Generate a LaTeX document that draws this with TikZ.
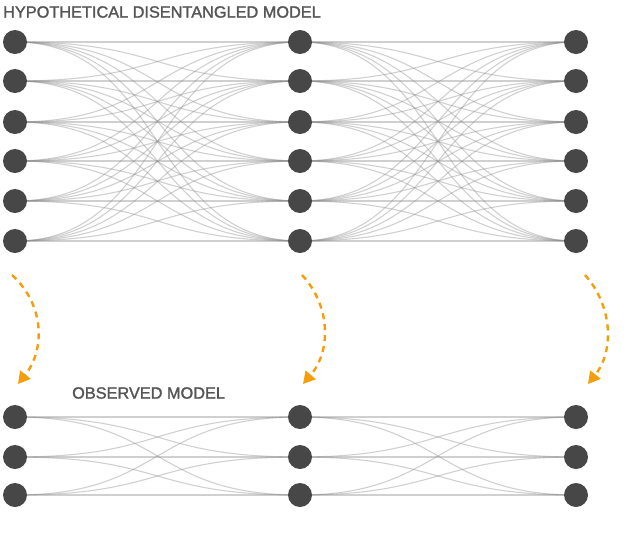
\documentclass[tikz,border=0pt]{standalone}
\usepackage{fontspec}
\setmainfont{Liberation Sans}
\newfontfamily\capfont{Liberation Sans}[FakeBold=1.6]
\usetikzlibrary{backgrounds,arrows.meta}
\definecolor{nodegray}{HTML}{474747}
\definecolor{edgegray}{HTML}{8A8A8A}
\definecolor{txtgray}{HTML}{555555}
\definecolor{arrorange}{HTML}{F59E0B}
\tikzset{
  neuron/.style={circle,fill=nodegray,minimum size=24pt,inner sep=0pt},
  link/.style={draw=edgegray,line width=1.1pt,draw opacity=0.4},
  mapflow/.style={draw=arrorange,line width=2.4pt,dash pattern=on 6pt off 5pt,-{Triangle[length=12pt,width=13pt]}},
  caption/.style={text=txtgray,font=\capfont\fontsize{16.3}{19}\selectfont,anchor=west,inner sep=0pt}
}
\begin{document}
\begin{tikzpicture}[x=1pt,y=-1pt]
\useasboundingbox (0,0) rectangle (625,539);
\node[caption] (t1) at (3,12) {HYPOTHETICAL DISENTANGLED MODEL};
\node[caption] (t2) at (72,393) {OBSERVED MODEL};
% networks
\foreach \c/\x in {a/15,b/300,c/576}{
  \foreach \i/\y in {1/42,2/81,3/122,4/161,5/201,6/241}{
    \node[neuron] (\c\i) at (\x,\y) {};
  }
  \foreach \i/\y in {1/417,2/457,3/495}{
    \node[neuron] (l\c\i) at (\x,\y) {};
  }
}
\begin{pgfonlayer}{background}
\foreach \i in {1,...,6}{
  \foreach \j in {1,...,6}{
    \draw[link] (a\i.center) .. controls ([xshift=150pt]a\i.center) and ([xshift=-150pt]b\j.center) .. (b\j.center);
    \draw[link] (b\i.center) .. controls ([xshift=140pt]b\i.center) and ([xshift=-140pt]c\j.center) .. (c\j.center);
  }
}
\foreach \i in {1,2,3}{
  \foreach \j in {1,2,3}{
    \draw[link] (la\i.center) .. controls ([xshift=150pt]la\i.center) and ([xshift=-150pt]lb\j.center) .. (lb\j.center);
    \draw[link] (lb\i.center) .. controls ([xshift=140pt]lb\i.center) and ([xshift=-140pt]lc\j.center) .. (lc\j.center);
  }
}
\end{pgfonlayer}
% mapping arrows
\coordinate (s1) at (12,275); \coordinate (e1) at (18,384);
\coordinate (s2) at (302,275); \coordinate (e2) at (303,384);
\coordinate (s3) at (585,275); \coordinate (e3) at (588,384);
\draw[mapflow] (s1) .. controls (45,305) and (45,350) .. (e1);
\draw[mapflow] (s2) .. controls (330,305) and (332,350) .. (e2);
\draw[mapflow] (s3) .. controls (612,305) and (615,350) .. (e3);
\end{tikzpicture}
\end{document}
